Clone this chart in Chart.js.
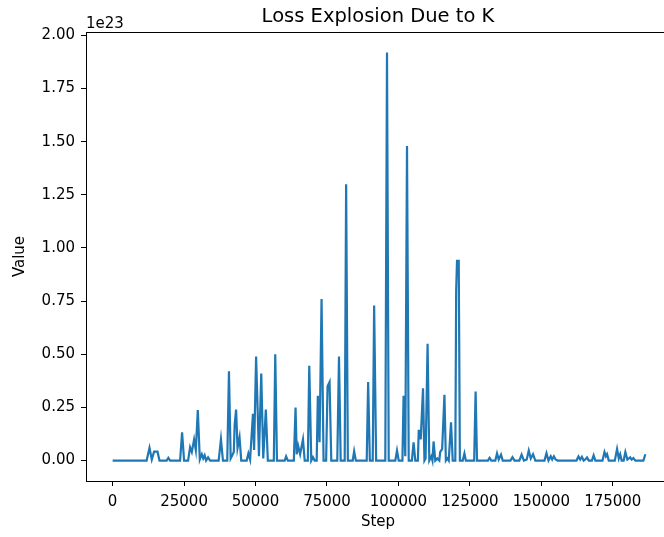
<!DOCTYPE html>
<html lang="en">
<head>
    <meta charset="UTF-8">
    <title>Loss Explosion Due to K</title>
    <script src="https://cdn.jsdelivr.net/npm/chart.js"></script>
    <style>
        html, body { margin: 0; padding: 0; background: #fff; overflow: hidden; }
        #lossChart { display: block; }
    </style>
</head>
<body>
    <canvas id="lossChart" width="676" height="537"></canvas>

    <script>
        // Training steps and loss values (values in units of 1e23)
        const steps = [
            0, 11900, 12900, 13700, 14500, 15700, 16400, 18900, 19500, 20100,
            23600, 24300, 25000, 26400, 27100, 27700, 28500, 29100, 29800, 30500,
            31200, 31700, 32200, 32700, 33400, 34100, 37100, 37900, 38600, 40100,
            40700, 41300, 41700, 42400, 42700, 43200, 43700, 44400, 45000, 46900,
            47500, 48100, 49100, 49500, 50200, 51200, 52000, 52700, 53600, 54300,
            56400, 56900, 57500, 60200, 60700, 61300, 63400, 64000, 64400, 64900,
            65600, 66600, 67200, 68300, 68800, 69500, 70100, 70700, 71400, 71800,
            72400, 73100, 73800, 74700, 75200, 75900, 76500, 78600, 79200, 79800,
            81200, 81700, 82300, 84000, 84500, 85100, 88900, 89400, 90000, 91000,
            91500, 92200, 95400, 96000, 96600, 98900, 99500, 100100, 101400, 101800,
            102400, 103000, 103600, 104700, 105300, 105900, 106800, 107100, 107500, 107800,
            108600, 109100, 109500, 110200, 110800, 111500, 111900, 112300, 112900, 113600,
            114300, 114600, 115300, 116100, 116600, 117100, 117600, 118400, 119000, 119900,
            120200, 120500, 121100, 121500, 122500, 123100, 123600, 126500, 127000, 127500,
            131300, 131900, 132500, 133900, 134500, 135100, 135900, 136500, 139200, 139900,
            140600, 142300, 143100, 143900, 144900, 145600, 146300, 147100, 147900, 151100,
            151800, 152500, 153300, 153800, 154400, 155000, 155700, 162300, 163000, 163600,
            164200, 164800, 165400, 166000, 166600, 167700, 168300, 168900, 171400, 172100,
            172600, 173000, 173600, 175700, 176500, 177100, 177600, 178100, 178800, 179400,
            180100, 181100, 181600, 182200, 182900, 185700, 186400
        ];
        const values = [
            0, 0, 0.06, 0.005, 0.042, 0.042, 0, 0, 0.013, 0,
            0, 0.133, 0, 0, 0.063, 0.04, 0.099, 0.05, 0.238, 0.005,
            0.03, 0.01, 0.025, 0, 0.015, 0, 0, 0.10, 0, 0,
            0.42, 0.01, 0.02, 0.04, 0.17, 0.24, 0.06, 0.11, 0, 0,
            0.034, 0.005, 0.22, 0.05, 0.49, 0.02, 0.41, 0.01, 0.24, 0,
            0, 0.50, 0, 0, 0.02, 0, 0, 0.25, 0.03, 0.07,
            0.03, 0.10, 0, 0, 0.446, 0, 0.016, 0, 0, 0.305,
            0.086, 0.76, 0, 0, 0.35, 0.37, 0, 0, 0.49, 0,
            0, 1.30, 0, 0, 0.044, 0, 0, 0.37, 0, 0,
            0.73, 0, 0, 1.92, 0, 0, 0.047, 0, 0, 0.305,
            0.02, 1.48, 0, 0, 0.086, 0, 0, 0.14, 0.14, 0.10,
            0.34, 0, 0.01, 0.55, 0, 0.02, 0, 0.09, 0, 0.01,
            0, 0.04, 0.055, 0.31, 0, 0.01, 0, 0.18, 0, 0,
            0.80, 0.94, 0.94, 0, 0, 0.034, 0, 0, 0.325, 0,
            0, 0.013, 0, 0, 0.034, 0.005, 0.028, 0, 0, 0.016,
            0, 0, 0.028, 0, 0.005, 0.047, 0.01, 0.03, 0, 0,
            0.035, 0, 0.02, 0.005, 0.02, 0.005, 0, 0, 0.02, 0.005,
            0.018, 0, 0.005, 0.015, 0, 0, 0.025, 0, 0, 0.04,
            0.02, 0.03, 0, 0, 0.055, 0.01, 0.03, 0, 0, 0.04,
            0.005, 0.015, 0.005, 0.012, 0, 0, 0.03
        ];
        const xTicks = [0, 25000, 50000, 75000, 100000, 125000, 150000, 175000];
        const yTicks = [0, 0.25, 0.5, 0.75, 1.0, 1.25, 1.5, 1.75, 2.0];

        const FONT = 'DejaVu Sans';

        // Title, axis labels, frame and offset text drawn like matplotlib
        const decorPlugin = {
            id: 'decor',
            afterDraw(chart) {
                const { ctx, chartArea } = chart;
                const { left, right, top, bottom } = chartArea;
                ctx.save();
                ctx.strokeStyle = '#000';
                ctx.lineWidth = 1;
                ctx.strokeRect(left + 0.5, top + 0.5, right - left, bottom - top);

                ctx.fillStyle = '#000';
                ctx.textAlign = 'center';
                ctx.textBaseline = 'middle';
                ctx.font = '19.5px ' + FONT;
                ctx.fillText('Loss Explosion Due to K', (left + 670) / 2, 17);

                ctx.font = '15px ' + FONT;
                ctx.fillText('Step', (left + 670) / 2, 522);

                ctx.save();
                ctx.translate(20, (top + bottom) / 2);
                ctx.rotate(-Math.PI / 2);
                ctx.fillText('Value', 0, 0);
                ctx.restore();

                ctx.textAlign = 'left';
                ctx.textBaseline = 'alphabetic';
                ctx.fillText('1e23', left, top - 4);
                ctx.restore();
            }
        };

        new Chart(document.getElementById('lossChart'), {
            type: 'line',
            data: {
                datasets: [{
                    data: steps.map((s, i) => ({ x: s, y: values[i] })),
                    borderColor: '#1f77b4',
                    borderWidth: 2.2,
                    pointRadius: 0,
                    tension: 0,
                    fill: false
                }]
            },
            options: {
                responsive: false,
                animation: false,
                layout: { padding: { left: 0, right: 4, top: 32, bottom: 0 } },
                plugins: {
                    legend: { display: false },
                    tooltip: { enabled: false }
                },
                scales: {
                    x: {
                        type: 'linear',
                        min: -9320,
                        max: 195720,
                        afterBuildTicks: (scale) => {
                            scale.ticks = xTicks.map(v => ({ value: v }));
                        },
                        afterFit: (scale) => { scale.height = 56; },
                        grid: {
                            drawOnChartArea: false,
                            drawTicks: true,
                            tickLength: 5,
                            color: '#000'
                        },
                        border: { display: false },
                        ticks: {
                            color: '#000',
                            padding: 7,
                            maxRotation: 0,
                            autoSkip: false,
                            font: { family: FONT, size: 15 },
                            callback: (v) => String(v)
                        }
                    },
                    y: {
                        min: -0.096,
                        max: 2.016,
                        afterBuildTicks: (scale) => {
                            scale.ticks = yTicks.map(v => ({ value: v }));
                        },
                        afterFit: (scale) => { scale.width = 86; },
                        grid: {
                            drawOnChartArea: false,
                            drawTicks: true,
                            tickLength: 5,
                            color: '#000'
                        },
                        border: { display: false },
                        ticks: {
                            color: '#000',
                            padding: 6,
                            autoSkip: false,
                            font: { family: FONT, size: 15 },
                            callback: (v) => v.toFixed(2)
                        }
                    }
                }
            },
            plugins: [decorPlugin]
        });
    </script>
</body>
</html>
